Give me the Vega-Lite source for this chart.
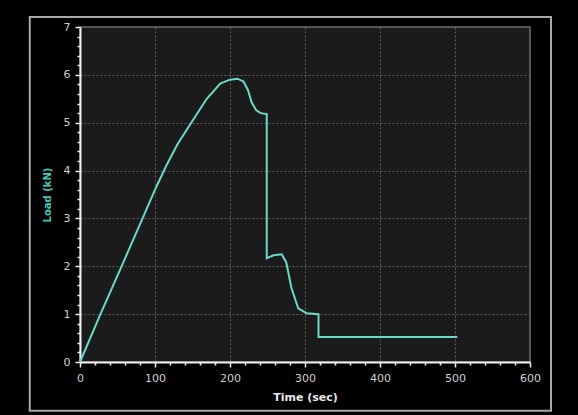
{
  "$schema": "https://vega.github.io/schema/vega-lite/v6.json",
  "width": 450,
  "height": 335,
  "autosize": {"type": "none"},
  "padding": {"left": 80, "top": 27, "right": 48, "bottom": 53},
  "background": "#000000",
  "config": {
    "view": {"fill": "#1b1b1b", "stroke": "#6a6a6a", "strokeWidth": 1.5},
    "font": "DejaVu Sans"
  },
  "datasets": {
    "load": [
      {"time": 0, "load": 0},
      {"time": 27, "load": 0.99},
      {"time": 56, "load": 2.02},
      {"time": 84, "load": 3.02},
      {"time": 100, "load": 3.6},
      {"time": 115, "load": 4.1},
      {"time": 130, "load": 4.55},
      {"time": 150, "load": 5.04},
      {"time": 169, "load": 5.5},
      {"time": 187, "load": 5.82},
      {"time": 200, "load": 5.9},
      {"time": 210, "load": 5.92},
      {"time": 218, "load": 5.86},
      {"time": 224, "load": 5.68},
      {"time": 229, "load": 5.42},
      {"time": 235, "load": 5.26},
      {"time": 241, "load": 5.2},
      {"time": 249, "load": 5.18},
      {"time": 249, "load": 2.17},
      {"time": 258, "load": 2.23},
      {"time": 269, "load": 2.25},
      {"time": 275, "load": 2.08},
      {"time": 282, "load": 1.54},
      {"time": 291, "load": 1.12},
      {"time": 302, "load": 1.02},
      {"time": 318, "load": 1.0},
      {"time": 318, "load": 0.52},
      {"time": 503, "load": 0.52}
    ]
  },
  "layer": [
    {
      "data": {"values": [{}]},
      "mark": {"type": "rect", "filled": false, "stroke": "#a8a8a8", "strokeWidth": 2, "clip": false},
      "encoding": {
        "x": {"datum": -67, "type": "quantitative"},
        "x2": {"datum": 628},
        "y": {"datum": 7.21, "type": "quantitative"},
        "y2": {"datum": -1.02}
      }
    },
    {
      "data": {"name": "load"},
      "mark": {"type": "line", "color": "#6cd8c8", "strokeWidth": 2, "interpolate": "linear"},
      "encoding": {
        "x": {
          "field": "time",
          "type": "quantitative",
          "scale": {"domain": [0, 600], "nice": false, "zero": false},
          "axis": {
            "title": "Time (sec)",
            "titleColor": "#e8e8e8",
            "titleFontSize": 11,
            "titleFontWeight": "bold",
            "titleX": 225,
            "titleY": 35,
            "titleBaseline": "middle",
            "titleAlign": "center",
            "tickCount": 100,
            "values": [0,20,40,60,80,100,120,140,160,180,200,220,240,260,280,300,320,340,360,380,400,420,440,460,480,500,520,540,560,580,600],
            "labelExpr": "datum.value % 100 === 0 ? format(datum.value, 'd') : ''",
            "labelColor": "#cfcfcf",
            "labelFontSize": 11,
            "labelPadding": 5,
            "labelFlush": false,
            "labelOverlap": false,
            "domainColor": "#f0f0f0",
            "domainWidth": 2,
            "tickColor": "#f0f0f0",
            "tickWidth": 1.5,
            "tickSize": {"condition": {"test": "datum.value % 100 === 0", "value": 5}, "value": 3},
            "grid": true,
            "gridColor": "#606060",
            "gridDash": [2, 2],
            "gridWidth": 1,
            "gridOpacity": {"condition": {"test": "datum.value % 100 === 0", "value": 1}, "value": 0}
          }
        },
        "y": {
          "field": "load",
          "type": "quantitative",
          "scale": {"domain": [0, 7], "nice": false},
          "axis": {
            "title": "Load (kN)",
            "titleColor": "#45c8bc",
            "titleFontSize": 10,
            "titleFontWeight": "bold",
            "titleX": -33,
            "titleY": 167.5,
            "titleAngle": -90,
            "titleBaseline": "middle",
            "titleAlign": "center",
            "tickCount": 100,
            "values": [0,0.2,0.4,0.6,0.8,1,1.2,1.4,1.6,1.8,2,2.2,2.4,2.6,2.8,3,3.2,3.4,3.6,3.8,4,4.2,4.4,4.6,4.8,5,5.2,5.4,5.6,5.8,6,6.2,6.4,6.6,6.8,7],
            "labelExpr": "datum.value % 1 === 0 ? format(datum.value, 'd') : ''",
            "labelColor": "#cfcfcf",
            "labelFontSize": 11,
            "labelPadding": 5,
            "labelFlush": false,
            "labelOverlap": false,
            "domainColor": "#f0f0f0",
            "domainWidth": 2,
            "tickColor": "#f0f0f0",
            "tickWidth": 1.5,
            "tickSize": {"condition": {"test": "datum.value % 1 === 0", "value": 5}, "value": 3},
            "grid": true,
            "gridColor": "#606060",
            "gridDash": [2, 2],
            "gridWidth": 1,
            "gridOpacity": {"condition": {"test": "datum.value % 1 === 0", "value": 1}, "value": 0}
          }
        }
      }
    }
  ]
}
